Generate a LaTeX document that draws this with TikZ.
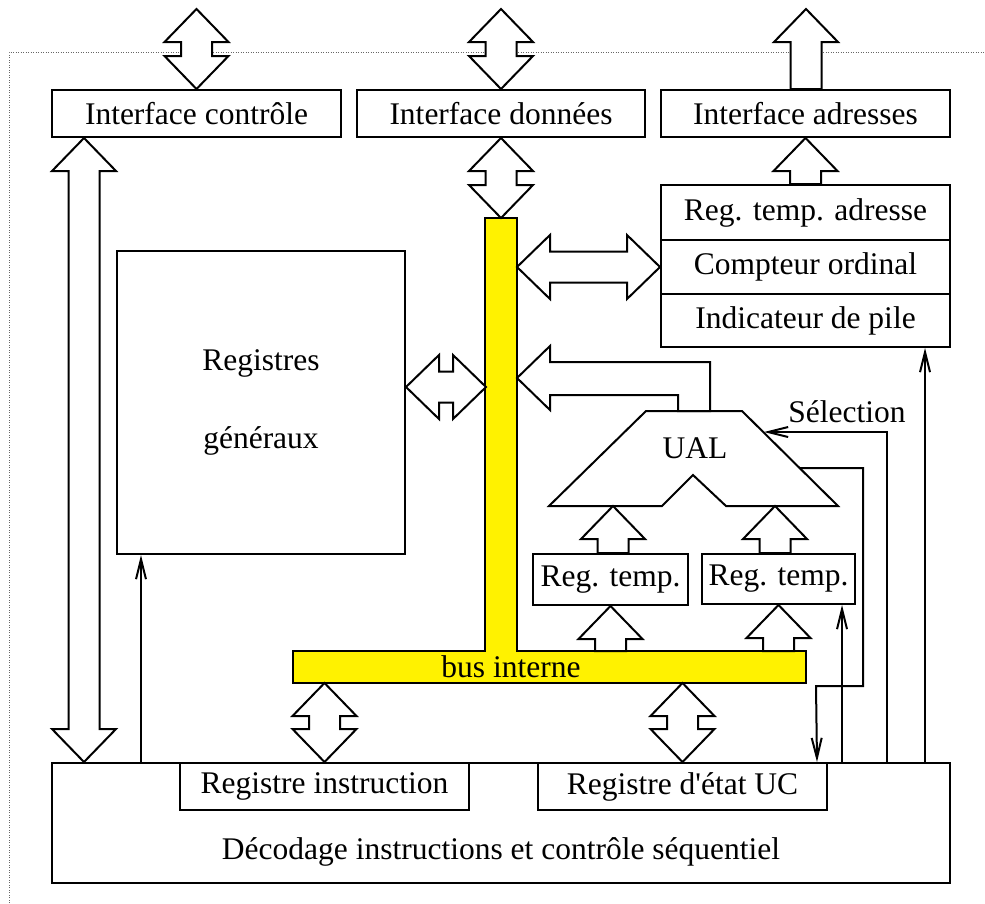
\documentclass[tikz,border=0pt]{standalone}
\usepackage{fontspec}
\setmainfont{Liberation Serif}
\usetikzlibrary{calc,arrows.meta}
\tikzset{
  box/.style={draw, line width=2pt, inner sep=0pt, fill=white, font=\fontsize{31.5}{38}\selectfont},
  txt/.style={inner sep=0pt, font=\fontsize{31.5}{38}\selectfont},
  fat/.style={draw, line width=2pt, fill=white, line join=miter},
  wire/.style={draw, line width=2pt},
  barbend/.style={-{Straight Barb[length=20pt,width=10pt,line width=2pt]}},
}
% vertical double fat arrow: #1 top point, #2 bottom point
\newcommand\fatV[2]{%
\path[fat] let \p1=#1, \p2=#2 in
 (\x1,\y1) -- ++(-32pt,-33pt) -- ++(16.5pt,0pt) -- (\x1-15.5pt,\y2+33pt) -- ++(-16.5pt,0pt)
 -- (\x1,\y2) -- ++(32pt,33pt) -- ++(-16.5pt,0pt) -- (\x1+15.5pt,\y1-33pt) -- ++(16.5pt,0pt) -- cycle;}
% vertical single fat arrow pointing up: #1 bottom point, #2 tip point
\newcommand\fatUp[2]{%
\path[fat] let \p1=#1, \p2=#2 in
 (\x2,\y2) -- ++(-32pt,-33pt) -- ++(16.5pt,0pt) -- (\x2-15.5pt,\y1) -- (\x2+15.5pt,\y1)
 -- (\x2+15.5pt,\y2-33pt) -- ++(16.5pt,0pt) -- cycle;}
% horizontal double fat arrow: #1 left point, #2 right point
\newcommand\fatH[2]{%
\path[fat] let \p1=#1, \p2=#2 in
 (\x1,\y1) -- ++(33pt,32pt) -- ++(0pt,-16.5pt) -- (\x2-33pt,\y1+15.5pt) -- ++(0pt,16.5pt)
 -- (\x2,\y1) -- ++(-33pt,-32pt) -- ++(0pt,16.5pt) -- (\x1+33pt,\y1-15.5pt) -- ++(0pt,-16.5pt) -- cycle;}
\begin{document}
\begin{tikzpicture}[x=1pt,y=-1pt]
\useasboundingbox (0,0) rectangle (985,903);
% dotted frame
\draw[gray!80!black, line width=1pt, dash pattern=on 1pt off 1.5pt] (9,903) -- (9,52) -- (985,52);

% interfaces
\node[box, minimum width=289pt, minimum height=47pt] (ifc) at (196.5,113.5) {Interface contrôle};
\node[box, minimum width=288pt, minimum height=47pt] (ifd) at (501,113.5) {Interface données};
\node[box, minimum width=289pt, minimum height=47pt] (ifa) at (805.5,113.5) {Interface adresses};

% address registers
\node[box, minimum width=289pt, minimum height=55pt] (rta) at (805.5,212.5) {Reg. temp. adresse};
\node[box, minimum width=289pt, minimum height=54pt] (co) at (805.5,267) {Compteur ordinal};
\node[box, minimum width=289pt, minimum height=53pt] (ip) at (805.5,320.5) {Indicateur de pile};

% general registers
\node[box, minimum width=288pt, minimum height=303pt, align=center] (reg) at (261,402.5) {Registres\\[40pt]généraux};

% temp registers
\node[box, minimum width=155pt, minimum height=51pt] (rt1) at (610.5,579.5) {Reg. temp.};
\node[box, minimum width=153pt, minimum height=50pt] (rt2) at (778.5,579) {Reg. temp.};

% bottom
\node[box, minimum width=898pt, minimum height=120pt] (dec) at (501,823) {};
\node[txt] (dectxt) at (501,852) {Décodage instructions et contrôle séquentiel};
\node[box, minimum width=289pt, minimum height=47pt] (ri) at (324.5,786.5) {Registre instruction};
\node[box, minimum width=289pt, minimum height=47pt] (re) at (682.5,786.5) {Registre d\textquotesingle état UC};

% internal bus
\path[draw, line width=2pt, fill=yellow, line join=miter]
  (485,218) coordinate (busTL) -- (517,218) -- (517,651) -- (806,651) -- (806,683)
  -- (293,683) -- (293,651) -- (485,651) -- cycle;
\coordinate (busTop) at (501,218);
\coordinate (busHt) at (0,651);
\coordinate (busHb) at (0,683);
\node[txt] (bus) at (511,667) {bus interne};

% UAL
\path[draw, line width=2pt, fill=white, line join=miter]
  (646,411) -- (742,411) -- (838,506) -- (726,506) -- (693,475) -- (662,506) -- (549,506) -- cycle;
\coordinate (ualTop) at (694,411);
\coordinate (ualB1) at (613,506);
\coordinate (ualB2) at (775,506);
\coordinate (ualS1) at (764,432);
\coordinate (ualS2) at (800,468);
\node[txt] (ual) at (695,448) {UAL};
\node[txt] (sel) at (847,412) {Sélection};

% top external arrows
\coordinate (topc) at (196.5,9);
\coordinate (topd) at (501,9);
\coordinate (topa) at (806,9);
\fatV{(topc)}{(ifc.north)}
\fatV{(topd)}{(ifd.north)}
\fatUp{(ifa.north)}{(topa)}

% interface connections
\fatV{(ifd.south)}{(busTop)}
\fatUp{(rta.north)}{(ifa.south)}
\fatV{($(ifc.south west)+(33,0)$)}{($(dec.north west)+(33,0)$)}

% bus <-> compteur ordinal
\fatH{(co.west -| 517,0)}{(co.west)}
% registres <-> bus
\fatH{($(reg.east)+(0,-15.5)$)}{($(reg.east)+(80,-15.5)$)}
% UAL -> bus (elbow)
\path[fat] let \p1=(517,378), \p2=(ualTop) in
  (\x1,\y1) -- ++(33pt,32pt) -- ++(0pt,-16pt) -- (\x2+16pt,\y1+16pt) -- (\x2+16pt,\y2)
  -- (\x2-16pt,\y2) -- (\x2-16pt,\y1-17pt) -- (\x1+33pt,\y1-17pt) -- ++(0pt,-15pt) -- cycle;

% temp registers -> UAL
\fatUp{(rt1.north)}{(ualB1)}
\fatUp{(rt2.north)}{(ualB2)}
% bus -> temp registers
\fatUp{(rt1.south |- busHt)}{(rt1.south)}
\fatUp{(rt2.south |- busHt)}{(rt2.south)}
% bus <-> instruction / state registers
\fatV{(ri.north |- busHb)}{(ri.north)}
\fatV{(re.north |- busHb)}{(re.north)}

% control wires
\draw[wire, barbend] ($(dec.north west)+(90,0)$) coordinate (w1) -- (w1 |- reg.south);
\draw[wire, barbend] ($(dec.north west)+(791,0)$) coordinate (w2) -- (w2 |- rt2.south);
\draw[wire, barbend] ($(dec.north west)+(874,0)$) coordinate (w3) -- (w3 |- ip.south);
\draw[wire, barbend] ($(dec.north west)+(836,0)$) coordinate (w4) |- (ualS1);
\draw[wire, barbend] (ualS2) -- (863,468) -- (863,686) -- (816,686) -- ($(re.north east)+(-11,0)$);
\end{tikzpicture}
\end{document}
